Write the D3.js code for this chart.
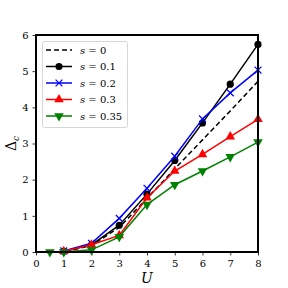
<!DOCTYPE html>
<html>
<head>
<meta charset="utf-8">
<script src="https://cdn.jsdelivr.net/npm/d3@7"></script>
<style>
body { margin: 0; background: #fff; }
text { font-family: "DejaVu Serif", "Liberation Serif", serif; }
</style>
</head>
<body>
<svg id="chart" width="288" height="288"></svg>
<script>
// values
var U0 = [0.5, 1, 2, 3, 4, 5, 6, 7, 8];
var U = [1, 2, 3, 4, 5, 6, 7, 8];
var s0 = [0, 0, 0.18, 0.68, 1.48, 2.3, 3.1, 3.9, 4.72];
var s01 = [0.02, 0.2, 0.74, 1.6, 2.53, 3.57, 4.64, 5.74];
var s02 = [0.03, 0.24, 0.93, 1.76, 2.65, 3.68, 4.4, 5.03];
var s03 = [0.02, 0.2, 0.46, 1.5, 2.24, 2.7, 3.19, 3.67];
var s035 = [0, 0, 0.06, 0.42, 1.31, 1.86, 2.24, 2.63, 3.04];
var sLabels = ["0", "0.1", "0.2", "0.3", "0.35"];
var xTicks = [0, 1, 2, 3, 4, 5, 6, 7, 8];
var yTicks = [0, 1, 2, 3, 4, 5, 6];

var series = [
	{ x: U0, y: s0, color: "#000", dash: "5,3", marker: "none" },
	{ x: U, y: s01, color: "#000", dash: null, marker: "circle" },
	{ x: U, y: s02, color: "#0000ff", dash: null, marker: "x" },
	{ x: U, y: s03, color: "#ff0000", dash: null, marker: "up" },
	{ x: U0, y: s035, color: "#008000", dash: null, marker: "down" }
];

var svg = d3.select("#chart");
var mLeft = 36, mRight = 258, mTop = 35, mBottom = 252;

var xScale = d3.scaleLinear().domain([0, 8]).range([mLeft, mRight]);
var yScale = d3.scaleLinear().domain([0, 6]).range([mBottom, mTop]);

function drawMarker(g, type, color, cx, cy) {
	if (type == "circle") {
		g.append("circle").attr("cx", cx).attr("cy", cy).attr("r", 3.6).style("fill", color);
	} else if (type == "x") {
		var r = 3.4;
		g.append("path")
			.attr("d", "M" + (cx - r) + "," + (cy - r) + "L" + (cx + r) + "," + (cy + r) +
				"M" + (cx - r) + "," + (cy + r) + "L" + (cx + r) + "," + (cy - r))
			.style("stroke", color).style("stroke-width", 1.2).style("fill", "none");
	} else if (type == "up" || type == "down") {
		var sym = d3.symbol().type(d3.symbolTriangle).size(40);
		g.append("path")
			.attr("d", sym())
			.attr("transform", "translate(" + cx + "," + cy + ")" + (type == "down" ? " rotate(180)" : ""))
			.style("fill", color);
	}
}

// axes
var xAxis = d3.axisBottom(xScale).tickValues(xTicks).tickFormat(d3.format("d")).tickSize(3.5).tickPadding(4);
var yAxis = d3.axisLeft(yScale).tickValues(yTicks).tickFormat(d3.format("d")).tickSize(3.5).tickPadding(4);

var gx = svg.append("g").attr("transform", "translate(0," + mBottom + ")").call(xAxis);
var gy = svg.append("g").attr("transform", "translate(" + mLeft + ",0)").call(yAxis);
[gx, gy].forEach(function(g) {
	g.select(".domain").remove();
	g.selectAll("text").style("font-size", "10px").style("fill", "#000")
		.style("font-family", "'DejaVu Serif', serif");
	g.selectAll("line").style("stroke", "#000").style("stroke-width", 0.8);
});

// lines
var line = d3.line()
	.x(function(d) { return xScale(d[0]); })
	.y(function(d) { return yScale(d[1]); });

var plot = svg.append("g");
series.forEach(function(s) {
	var pts = s.x.map(function(v, i) { return [v, s.y[i]]; });
	plot.append("path")
		.datum(pts)
		.attr("d", line)
		.style("fill", "none")
		.style("stroke", s.color)
		.style("stroke-width", 1.5)
		.style("stroke-dasharray", s.dash);
	pts.forEach(function(p) {
		drawMarker(plot, s.marker, s.color, xScale(p[0]), yScale(p[1]));
	});
});

// frame
svg.append("rect")
	.attr("x", mLeft).attr("y", mTop)
	.attr("width", mRight - mLeft).attr("height", mBottom - mTop)
	.style("fill", "none").style("stroke", "#000").style("stroke-width", 2);

// legend
var leg = svg.append("g");
leg.append("rect")
	.attr("x", 42.5).attr("y", 41.5).attr("width", 85).attr("height", 86).attr("rx", 2)
	.style("fill", "#fff").style("fill-opacity", 0.8)
	.style("stroke", "#ccc").style("stroke-width", 0.8);
series.forEach(function(s, i) {
	var yy = 50 + i * 16.5;
	leg.append("line")
		.attr("x1", 46).attr("x2", 72).attr("y1", yy).attr("y2", yy)
		.style("stroke", s.color).style("stroke-width", 1.5)
		.style("stroke-dasharray", s.dash);
	drawMarker(leg, s.marker, s.color, 59, yy);
	var t = leg.append("text").attr("x", 80).attr("y", yy + 3.5)
		.style("font-size", "10px");
	t.append("tspan").style("font-style", "italic").text("s");
	t.append("tspan").text(" = " + sLabels[i]);
});

// axis labels
svg.append("text")
	.attr("x", (mLeft + mRight) / 2).attr("y", 283)
	.attr("text-anchor", "middle")
	.style("font-size", "14px").style("font-style", "italic")
	.text("U");

var yl = svg.append("text")
	.attr("transform", "translate(16," + ((mTop + mBottom) / 2) + ") rotate(-90)")
	.attr("text-anchor", "middle")
	.style("font-size", "14px");
yl.append("tspan").text("Δ");
yl.append("tspan").attr("dy", 3).style("font-size", "9px").style("font-style", "italic").text("c");
</script>
</body>
</html>
